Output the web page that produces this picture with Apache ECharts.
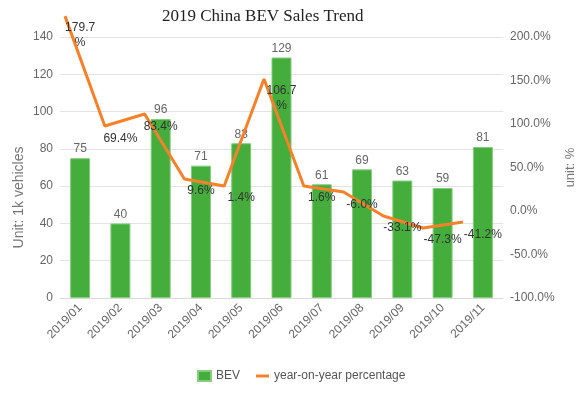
<!DOCTYPE html>
<html>
<head>
<meta charset="utf-8">
<script src="https://cdn.jsdelivr.net/npm/echarts@6/dist/echarts.min.js"></script>
<style>
  html, body { margin: 0; padding: 0; background: #fff; }
  #chart { width: 580px; height: 399px; }
</style>
</head>
<body>
<div id="chart"></div>
<script>
// months on the x axis
var months = ['2019/01', '2019/02', '2019/03', '2019/04', '2019/05', '2019/06',
              '2019/07', '2019/08', '2019/09', '2019/10', '2019/11'];
// BEV sales, 1k vehicles
var bevSales = [75, 40, 96, 71, 83, 129, 61, 69, 63, 59, 81];
// year-on-year labels, %
var yoyLabels = [179.7, 69.4, 83.4, 9.6, 1.4, 106.7, 1.6, -6.0, -33.1, -47.3, -41.2];
// where the orange line is actually drawn in the picture, %
var yoyLine = [224, 97.7, 111.5, 36.8, 28.7, 151.7, 28.7, 21.8, -5.7, -19.5, -12.6];

var leftTicks = { min: 0, max: 140, interval: 20 };
var rightTicks = { min: -100, max: 200, interval: 50 };

var myChart = echarts.init(document.getElementById('chart'));

var sans = 'Liberation Sans, Arial, sans-serif';

var option = {
    animation: false,
    title: {
        text: '2019 China BEV Sales Trend',
        left: 157,
        top: 3,
        textStyle: { fontFamily: 'Liberation Serif, Times New Roman, serif', fontSize: 17, fontWeight: 'normal', color: '#222' }
    },
    legend: {
        left: 192,
        top: 365,
        itemWidth: 13,
        itemHeight: 10,
        itemGap: 16,
        symbolKeepAspect: true,
        textStyle: { fontFamily: sans, fontSize: 12, color: '#555' },
        data: [
            { name: 'BEV', icon: 'rect' },
            { name: 'year-on-year percentage', icon: 'path://M0,0 L13,0 L13,3 L0,3 Z' }
        ]
    },
    grid: [
        { left: 60, right: 77, top: 37, bottom: 101, outerBoundsMode: 'none' },
        { left: 65, right: 117, top: 37, bottom: 101, outerBoundsMode: 'none' }
    ],
    xAxis: [
        {
            type: 'category',
            gridIndex: 0,
            data: months,
            axisLine: { lineStyle: { color: '#d9d9d9' } },
            axisTick: { show: false },
            axisLabel: { rotate: 45, color: '#666', fontFamily: sans, fontSize: 12, margin: 8 }
        },
        {
            type: 'category',
            gridIndex: 1,
            data: months,
            boundaryGap: false,
            show: false
        }
    ],
    yAxis: [
        {
            type: 'value',
            gridIndex: 0,
            min: leftTicks.min, max: leftTicks.max, interval: leftTicks.interval,
            name: 'Unit: 1k vehicles',
            nameLocation: 'middle',
            nameGap: 34,
            nameMoveOverlap: false,
            nameTextStyle: { fontFamily: sans, fontSize: 14, color: '#777', padding: [0, 60, 0, 0] },
            axisLine: { show: false },
            axisTick: { show: false },
            axisLabel: { color: '#666', fontFamily: sans, fontSize: 12, margin: 7 },
            splitLine: { lineStyle: { color: '#e3e3e3' } }
        },
        {
            type: 'value',
            gridIndex: 0,
            position: 'right',
            min: rightTicks.min, max: rightTicks.max, interval: rightTicks.interval,
            name: 'unit: %',
            nameLocation: 'middle',
            nameGap: 61,
            nameMoveOverlap: false,
            nameTextStyle: { fontFamily: sans, fontSize: 13, color: '#777' },
            axisLine: { show: false },
            axisTick: { show: false },
            axisLabel: { color: '#666', fontFamily: sans, fontSize: 12, margin: 7, formatter: function (v) { return v.toFixed(1) + '%'; } },
            splitLine: { show: false }
        },
        {
            type: 'value',
            gridIndex: 1,
            min: rightTicks.min, max: rightTicks.max,
            show: false
        }
    ],
    series: [
        {
            name: 'BEV',
            type: 'bar',
            xAxisIndex: 0,
            yAxisIndex: 0,
            barWidth: 20,
            data: bevSales,
            itemStyle: { color: '#45ad3c', borderColor: '#86cc7f', borderWidth: 1 },
            label: { show: true, position: 'top', distance: 3, color: '#666', fontFamily: sans, fontSize: 12 }
        },
        {
            name: 'year-on-year percentage',
            type: 'line',
            xAxisIndex: 1,
            yAxisIndex: 2,
            data: yoyLine,
            symbol: 'none',
            clip: false,
            itemStyle: { color: '#f7802b' },
            lineStyle: { color: '#f7802b', width: 3 },
            z: 3
        },
        {
            name: 'yoy labels',
            type: 'line',
            xAxisIndex: 0,
            yAxisIndex: 1,
            data: yoyLabels,
            symbol: 'circle',
            symbolSize: 1,
            clip: false,
            silent: true,
            itemStyle: { color: 'rgba(0,0,0,0)' },
            lineStyle: { opacity: 0 },
            label: {
                show: true,
                position: 'top',
                distance: 4,
                color: '#333',
                fontFamily: sans,
                fontSize: 12,
                lineHeight: 15,
                formatter: function (p) {
                    var v = p.value;
                    return v >= 100 ? v.toFixed(1) + '\n%' : v.toFixed(1) + '%';
                }
            },
            z: 5
        }
    ]
};

myChart.setOption(option);
</script>
</body>
</html>
